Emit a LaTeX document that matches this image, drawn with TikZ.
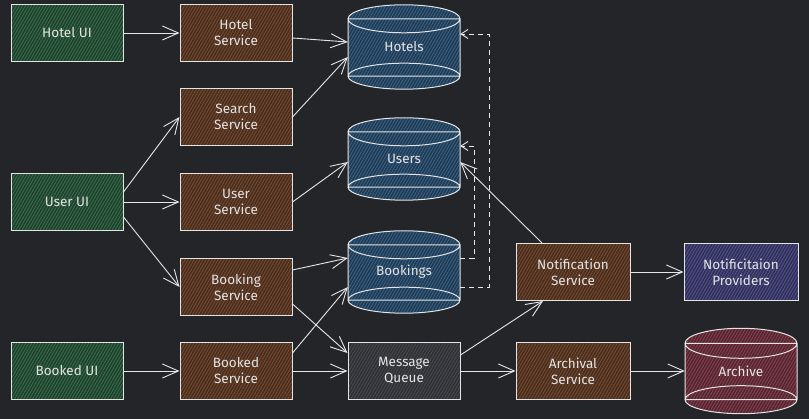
\documentclass[tikz,border=0pt]{standalone}
\usepackage{fontspec}
\setmainfont{Fira Sans}
\usetikzlibrary{arrows.meta,calc,patterns.meta}
\definecolor{bgc}{HTML}{232529}
\definecolor{ink}{HTML}{E4E4E4}
\definecolor{uigreen}{HTML}{2E7A47}
\definecolor{svcbrown}{HTML}{8A4A22}
\definecolor{dbblue}{HTML}{2F6A9E}
\definecolor{provpurple}{HTML}{5552A8}
\definecolor{archred}{HTML}{A43A4E}
\definecolor{mqgray}{HTML}{4A4D52}
\tikzset{
    hatch/.style={preaction={fill=#1!30!bgc}, pattern={Lines[angle=60,distance=2.6pt,line width=0.7pt]}, pattern color=#1},
    box/.style={draw=ink, line width=1pt, hatch=#1, minimum width=112pt, minimum height=57pt,
        inner sep=0pt, align=center, text=ink, font=\fontsize{13.5}{16}\selectfont},
    store/.style={minimum width=112pt, minimum height=#1, inner sep=0pt, text=ink,
        font=\fontsize{13.5}{16}\selectfont},
    link/.style={draw=ink!90, line width=0.9pt, -{Straight Barb[length=16pt,width=14pt]}},
    feed/.style={draw=ink!80, line width=0.9pt, dash pattern=on 5pt off 4pt, -{Straight Barb[length=7pt,width=9pt]}},
}
% cylinder drawn round a store node: #1 node, #2 colour, #3 top radius, #4 bottom radius
\newcommand{\dbcyl}[4]{
    \coordinate (#1-t) at ($(#1.north)+(0pt,-#3)$);
    \coordinate (#1-b) at ($(#1.south)+(0pt,#4)$);
    \path[hatch=#2] ($(#1-t)+(-56pt,0pt)$) rectangle ($(#1-b)+(56pt,0pt)$);
    \path[hatch=#2] (#1-t) ellipse [x radius=56pt, y radius=#3];
    \path[hatch=#2] (#1-b) ellipse [x radius=56pt, y radius=#4];
    \draw[ink, line width=1pt] (#1-t) ellipse [x radius=56pt, y radius=#3]
        (#1-b) ellipse [x radius=56pt, y radius=#4]
        ($(#1-t)+(-56pt,0pt)$) -- ($(#1-b)+(-56pt,0pt)$)
        ($(#1-t)+(56pt,0pt)$) -- ($(#1-b)+(56pt,0pt)$)
        ($(#1-t)+(-56pt,0pt)$) -- ($(#1-t)+(56pt,0pt)$)
        ($(#1-b)+(-56pt,0pt)$) -- ($(#1-b)+(56pt,0pt)$);
}
\begin{document}
\begin{tikzpicture}[x=1pt,y=1pt]
    \fill[bgc] (0,0) rectangle (809,419);
    \useasboundingbox (0,0) rectangle (809,419);

    \node[box=uigreen] (hotelui) at (67,386) {Hotel UI};
    \node[box=uigreen] (userui) at (67,217) {User UI};
    \node[box=uigreen] (bookedui) at (67,48) {Booked UI};

    \node[box=svcbrown] (hotelsvc) at (236,386) {Hotel\\Service};
    \node[box=svcbrown] (searchsvc) at (236,302) {Search\\Service};
    \node[box=svcbrown] (usersvc) at (236,217) {User\\Service};
    \node[box=svcbrown] (bookingsvc) at (236,132) {Booking\\Service};
    \node[box=svcbrown] (bookedsvc) at (236,48) {Booked\\Service};

    \node[store=84pt] (hotels) at (404,372) {};
    \node[store=82pt] (users) at (404,260) {};
    \node[store=82pt] (bookings) at (404,147) {};
    \node[store=85pt] (archive) at (741,48) {};
    \dbcyl{hotels}{dbblue}{14pt}{13pt}
    \dbcyl{users}{dbblue}{14pt}{13pt}
    \dbcyl{bookings}{dbblue}{14pt}{13pt}
    \dbcyl{archive}{archred}{15pt}{14pt}
    \node[store=10pt] (hotelstext) at (hotels) {Hotels};
    \node[store=10pt] (userstext) at (users) {Users};
    \node[store=10pt] (bookingstext) at (bookings) {Bookings};
    \node[store=10pt] (archivetext) at (archive) {Archive};

    \node[box=mqgray] (queue) at (404,48) {Message\\Queue};
    \node[box=svcbrown, minimum width=114pt] (notifsvc) at (573,147) {Notification\\Service};
    \node[box=svcbrown, minimum width=114pt] (archival) at (573,48) {Archival\\Service};
    \node[box=provpurple, minimum width=114pt] (providers) at (741,147) {Notificitaion\\Providers};

    \draw[link] (hotelui) -- (hotelsvc);
    \draw[link] ([yshift=-5pt]hotelsvc.east) -- ([yshift=5pt]hotels.west);
    \draw[link] (searchsvc.east) -- ([yshift=-10pt]hotels.west);
    \draw[link] ([yshift=10pt]userui.east) -- (searchsvc.west);
    \draw[link] (userui) -- (usersvc);
    \draw[link] ([yshift=-15pt]userui.east) -- (bookingsvc.west);
    \draw[link] (usersvc.east) -- ([yshift=-3pt]users.west);
    \draw[link] ([yshift=17pt]bookingsvc.east) -- ([yshift=14pt]bookings.west);
    \draw[link] ([yshift=-17pt]bookingsvc.east) -- ([yshift=18pt]queue.west);
    \draw[link] (bookedui) -- (bookedsvc);
    \draw[link] ([yshift=18pt]bookedsvc.east) -- ([yshift=-15pt]bookings.west);
    \draw[link] (bookedsvc.east) -- (queue.west);
    \draw[link] ([yshift=16pt]queue.east) -- ([xshift=-30pt]notifsvc.south);
    \draw[link] (queue) -- (archival);
    \draw[link] ([xshift=-31pt]notifsvc.north) -- ([yshift=-3pt]users.east);
    \draw[link] (notifsvc) -- (providers);
    \draw[link] (archival) -- (archive);

    \coordinate (outer) at (489,385);
    \coordinate (inner) at (474,273);
    \draw[feed] ([yshift=-15pt]bookings.east) -| (outer) -- ([yshift=13pt]hotels.east);
    \draw[feed] ([yshift=14pt]bookings.east) -| (inner) -- ([yshift=13pt]users.east);
\end{tikzpicture}
\end{document}
